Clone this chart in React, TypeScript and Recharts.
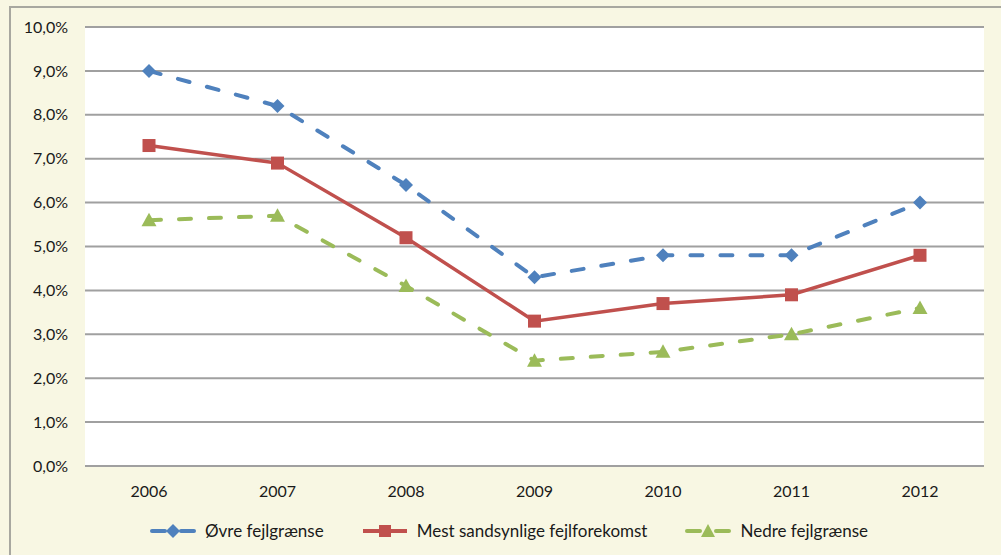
import React from 'react';
import { LineChart, Line, XAxis, YAxis, CartesianGrid, Legend } from 'recharts';

const years = ['2006', '2007', '2008', '2009', '2010', '2011', '2012'];
const ovre = [9.0, 8.2, 6.4, 4.3, 4.8, 4.8, 6.0];
const mest = [7.3, 6.9, 5.2, 3.3, 3.7, 3.9, 4.8];
const nedre = [5.6, 5.7, 4.1, 2.4, 2.6, 3.0, 3.6];
const yTicks = [0, 1, 2, 3, 4, 5, 6, 7, 8, 9, 10];

const names = {
  ovre: 'Øvre fejlgrænse',
  mest: 'Mest sandsynlige fejlforekomst',
  nedre: 'Nedre fejlgrænse',
};
const colors = { ovre: '#4F81BD', mest: '#C0504D', nedre: '#9BBB59' };

const data = years.map((y, i) => ({ year: y, ovre: ovre[i], mest: mest[i], nedre: nedre[i] }));

const FONT = 'Lato, "Open Sans", "Liberation Sans", sans-serif';
const fmt = (v: number) => v.toFixed(1).replace('.', ',') + '%';

const Diamond = (props: any) => {
  const { cx, cy } = props;
  if (cx == null || cy == null) return null;
  const r = 7;
  return <path d={`M${cx},${cy - r}L${cx + r},${cy}L${cx},${cy + r}L${cx - r},${cy}Z`} fill={colors.ovre} />;
};
const Square = (props: any) => {
  const { cx, cy } = props;
  if (cx == null || cy == null) return null;
  const r = 6.5;
  return <rect x={cx - r} y={cy - r} width={2 * r} height={2 * r} fill={colors.mest} />;
};
const Tri = (props: any) => {
  const { cx, cy } = props;
  if (cx == null || cy == null) return null;
  const r = 7.5;
  return <path d={`M${cx},${cy - r}L${cx + r},${cy + r * 0.8}L${cx - r},${cy + r * 0.8}Z`} fill={colors.nedre} />;
};

const LegendIcon = ({ kind }: { kind: 'ovre' | 'mest' | 'nedre' }) => {
  const c = colors[kind];
  return (
    <svg width={46} height={16} style={{ display: 'block' }}>
      {kind === 'mest' ? (
        <line x1={1} y1={8} x2={45} y2={8} stroke={c} strokeWidth={4} />
      ) : (
        <>
          <line x1={2} y1={8} x2={15} y2={8} stroke={c} strokeWidth={4} strokeLinecap="round" />
          <line x1={31} y1={8} x2={44} y2={8} stroke={c} strokeWidth={4} strokeLinecap="round" />
        </>
      )}
      {kind === 'ovre' && <path d="M23,1L30,8L23,15L16,8Z" fill={c} />}
      {kind === 'mest' && <rect x={17} y={2} width={12} height={12} fill={c} />}
      {kind === 'nedre' && <path d="M23,1L30,14L16,14Z" fill={c} />}
    </svg>
  );
};

const renderLegend = () => (
  <div style={{ display: 'flex', justifyContent: 'center', alignItems: 'center', fontFamily: FONT, fontSize: 17, color: '#1a1a1a', paddingLeft: 34 }}>
    {(['ovre', 'mest', 'nedre'] as const).map((k, i) => (
      <div key={k} style={{ display: 'flex', alignItems: 'center', marginLeft: i === 0 ? 0 : 38 }}>
        <LegendIcon kind={k} />
        <span style={{ marginLeft: 9 }}>{names[k]}</span>
      </div>
    ))}
  </div>
);

export default function App() {
  return (
    <div style={{ position: 'absolute', left: 0, top: 0, width: 1001, height: 555, background: '#F8F7E3', overflow: 'hidden' }}>
      <div style={{ position: 'absolute', left: 9, top: 6, width: 1010, height: 560, borderLeft: '2px solid #A8A8A0', borderTop: '2px solid #A8A8A0' }} />
      <div style={{ position: 'absolute', left: 0, top: 0 }}>
        <LineChart width={1001} height={555} data={data} margin={{ top: 27, right: 17, bottom: 0, left: 0 }}>
          <CartesianGrid vertical={false} horizontal fill="#FFFFFF" stroke="#A0A0A0" strokeWidth={2} />
          <XAxis
            dataKey="year"
            padding={{ left: 64, right: 64 }}
            axisLine={{ stroke: '#A0A0A0', strokeWidth: 2 }}
            tickLine={false}
            tickSize={0}
            tickMargin={20}
            height={68}
            tick={{ fill: '#1a1a1a', fontSize: 16, fontFamily: FONT }}
          />
          <YAxis
            domain={[0, 10]}
            ticks={yTicks}
            interval={0}
            width={85}
            axisLine={false}
            tickLine={false}
            tickSize={0}
            tickMargin={17}
            tickFormatter={fmt}
            tick={{ fill: '#1a1a1a', fontSize: 16, fontFamily: FONT }}
          />
          <Legend verticalAlign="bottom" content={renderLegend} wrapperStyle={{ bottom: 14 }} />
          <Line
            dataKey="ovre"
            name={names.ovre}
            stroke={colors.ovre}
            strokeWidth={4}
            strokeDasharray="12 18"
            strokeLinecap="round"
            dot={<Diamond />}
            activeDot={false}
            isAnimationActive={false}
          />
          <Line
            dataKey="mest"
            name={names.mest}
            stroke={colors.mest}
            strokeWidth={3.5}
            dot={<Square />}
            activeDot={false}
            isAnimationActive={false}
          />
          <Line
            dataKey="nedre"
            name={names.nedre}
            stroke={colors.nedre}
            strokeWidth={4}
            strokeDasharray="12 18"
            strokeLinecap="round"
            dot={<Tri />}
            activeDot={false}
            isAnimationActive={false}
          />
        </LineChart>
      </div>
    </div>
  );
}
